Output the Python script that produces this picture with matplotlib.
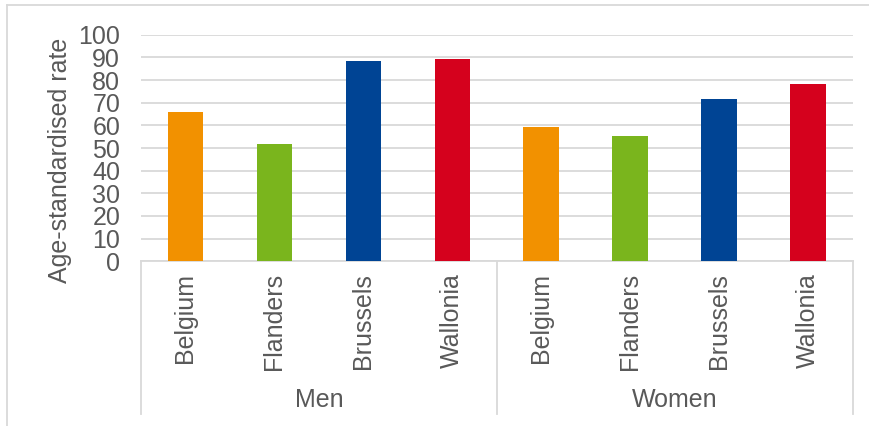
import numpy as np
import matplotlib
matplotlib.use('Agg')
import matplotlib.pyplot as plt
from matplotlib.lines import Line2D

plt.rcParams['font.family'] = ['Liberation Sans', 'DejaVu Sans']

# Age-standardised rates by sex and region
groups = ['Men', 'Women']
regions = ['Belgium', 'Flanders', 'Brussels', 'Wallonia']
men = [65.9, 51.7, 88.3, 89.2]
women = [59.2, 55.3, 71.6, 78.2]
region_colors = ['#F29100', '#7AB51D', '#004494', '#D5011D']

text_col = '#595959'
line_col = '#D9D9D9'

values = men + women
labels = regions * len(groups)
colors = region_colors * len(groups)
x = np.arange(len(values))

fig = plt.figure(figsize=(8.7, 4.26), dpi=100)
ax = fig.add_axes([0.1621, 0.3866, 0.8178, 0.5319])

ax.bar(x, values, width=0.4, color=colors, zorder=3)

ax.set_xlim(-0.5, len(values) - 0.5)
ax.set_ylim(0, 100)
ax.set_yticks(np.arange(0, 101, 10))
ax.set_xticks([])
ax.tick_params(axis='y', length=0, pad=15, labelsize=18, labelcolor=text_col)
ax.grid(axis='y', color=line_col, linewidth=1.3, zorder=0)
for s in ['top', 'right', 'left']:
    ax.spines[s].set_visible(False)
ax.spines['bottom'].set_color(line_col)
ax.spines['bottom'].set_linewidth(1.3)

# y axis title
fig.text(60 / 870, 1 - 160 / 426, 'Age-standardised rate', rotation=90,
         ha='center', va='center', fontsize=18, color=text_col)

# two-level category axis: region names, then sex, with separators
tr = ax.get_xaxis_transform()
for xi, lab in zip(x, labels):
    ax.text(xi, -0.05, lab, rotation=90, ha='center', va='top',
            fontsize=18, color=text_col, transform=tr)
n = len(regions)
for gi, g in enumerate(groups):
    ax.text(gi * n + (n - 1) / 2, -0.612, g, ha='center', va='center',
            fontsize=18, color=text_col, transform=tr)
for sep in np.arange(len(groups) + 1) * n - 0.5:
    ax.add_line(Line2D([sep, sep], [0, -0.674], transform=tr, color=line_col,
                       linewidth=1.3, clip_on=False))

# chart frame
fig.add_artist(Line2D([7 / 870, 7 / 870], [0, 1 - 5 / 426], transform=fig.transFigure,
                      color=line_col, linewidth=1.3))
fig.add_artist(Line2D([7 / 870, 1], [1 - 5 / 426, 1 - 5 / 426], transform=fig.transFigure,
                      color=line_col, linewidth=1.3))

fig.savefig('out.png', dpi=100, facecolor='white')
